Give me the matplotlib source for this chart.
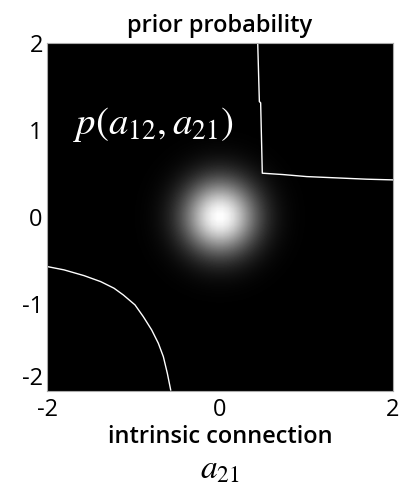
import numpy as np
import matplotlib.pyplot as plt

# prior: gaussian centred on zero
prior_mean = [0.0, 0.0]
prior_sd = 0.3
grid_n = 64

# stability boundary (a21, a12)
bl_x = [-1.997, -1.803, -1.572, -1.379, -1.225, -1.118, -0.983, -0.887,
        -0.790, -0.713, -0.655, -0.609, -0.570]
bl_y = [-0.571, -0.609, -0.675, -0.744, -0.820, -0.897, -1.011, -1.146,
        -1.299, -1.452, -1.606, -1.797, -1.989]
tr_x = [0.436, 0.455, 0.47, 0.489, 0.732, 1.002, 1.349, 1.696, 2.0]
tr_y = [2.0, 1.325, 1.31, 0.502, 0.486, 0.463, 0.448, 0.433, 0.425]

ticks = [-2, 0, 2]
yticks = [-2, -1, 0, 1, 2]

g = np.linspace(-2, 2, grid_n)
X, Y = np.meshgrid(g, g)
Z = np.exp(-((X - prior_mean[0])**2 + (Y - prior_mean[1])**2) / (2 * prior_sd**2))

plt.rcParams['mathtext.fontset'] = 'stix'
fig = plt.figure(figsize=(4, 4.98), dpi=100)
ax = fig.add_axes([0.1175, 0.215, 0.865, 0.699])
ax.imshow(Z, cmap='gray', extent=[-2, 2, -2, 2], origin='lower',
          interpolation='bilinear', aspect='auto', vmin=0, vmax=1)
ax.plot(bl_x, bl_y, color='white', lw=1)
ax.plot(tr_x, tr_y, color='white', lw=1)
ax.set_xlim(-2, 2)
ax.set_ylim(-2, 2)

ax.text(-1.7, 0.95, r'$p(a_{12},a_{21})$', color='white', fontsize=28)

fnt = dict(family='Open Sans', fontsize=17)
ax.set_xticks(ticks)
ax.set_xticklabels([str(t) for t in ticks], **fnt)
ax.set_yticks(yticks)
ax.set_yticklabels([str(t) for t in yticks], **fnt)
ax.tick_params(length=0)
ax.tick_params(axis='x', pad=5)
ax.tick_params(axis='y', pad=3)
ax.get_yticklabels()[0].set_va('bottom')
for s in ax.spines.values():
    s.set_color('#aaaaaa')
    s.set_linewidth(0.8)

ax.set_title('prior probability', fontsize=17, family='Open Sans', weight='semibold', pad=8)
ax.set_xlabel('intrinsic connection', fontsize=17, family='Open Sans', weight='semibold', labelpad=2)
fig.text(0.55, 0.058, r'$a_{21}$', fontsize=24, ha='center', va='center')

fig.savefig('out.png', dpi=100)
